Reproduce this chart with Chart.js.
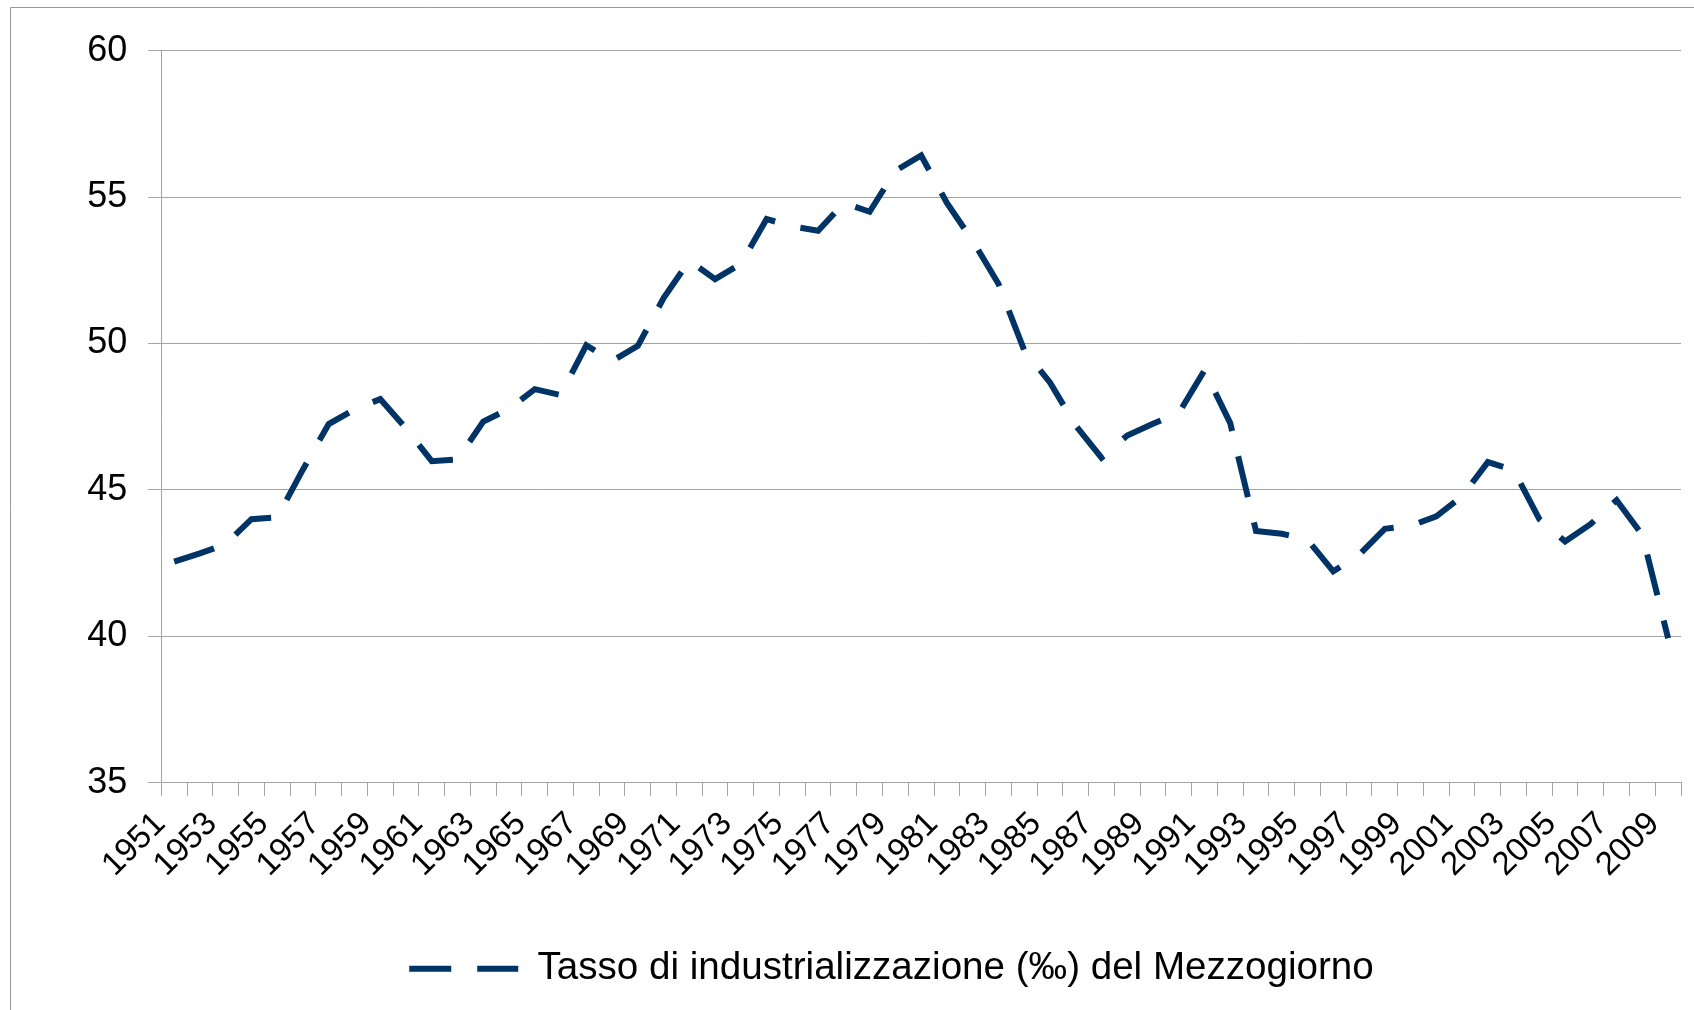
<!DOCTYPE html>
<html>
<head>
<meta charset="utf-8">
<script src="https://cdn.jsdelivr.net/npm/chart.js@4.4.1/dist/chart.umd.min.js"></script>
<style>
  html, body { margin: 0; padding: 0; background: #fff; overflow: hidden; }
  #wrap { position: relative; width: 1694px; height: 1010px; }
</style>
</head>
<body>
<div id="wrap"><canvas id="chart"></canvas></div>
<script>
// categories: one per year
var years = ['1951','1952','1953','1954','1955','1956','1957','1958','1959','1960',
             '1961','1962','1963','1964','1965','1966','1967','1968','1969','1970',
             '1971','1972','1973','1974','1975','1976','1977','1978','1979','1980',
             '1981','1982','1983','1984','1985','1986','1987','1988','1989','1990',
             '1991','1992','1993','1994','1995','1996','1997','1998','1999','2000',
             '2001','2002','2003','2004','2005','2006','2007','2008','2009'];

// industrialisation rate (per mille)
var tasso = [42.55, 42.83, 43.15, 44.0, 44.06, 45.7, 47.25, 47.75, 48.1, 47.1,
             45.98, 46.04, 47.33, 47.77, 48.44, 48.24, 49.94, 49.4, 49.92, 51.55,
             52.83, 52.2, 52.72, 54.25, 54.0, 53.85, 54.8, 54.5, 55.9, 56.42,
             54.8, 53.51, 52.04, 49.77, 48.67, 47.2, 46.1, 46.86, 47.26, 47.62,
             49.08, 47.28, 43.6, 43.5, 43.3, 42.22, 42.78, 43.67, 43.77, 44.1,
             44.78, 45.95, 45.68, 44.0, 43.24, 43.84, 44.65, 43.46, 39.93];

var seriesName = 'Tasso di industrializzazione (\u2030) del Mezzogiorno';
var yMin = 35, yMax = 60, yStep = 5;
var labelEvery = 2; // only every other year gets a label

var gray = '#a3a3a3';
var navy = '#003366';
var dash = [42, 26];
var lineW = 6;

// the thin frame round the chart (only left and top edges are inside the picture)
var framePlugin = {
  id: 'frame',
  beforeDraw: function(chart) {
    var ctx = chart.ctx;
    ctx.save();
    ctx.strokeStyle = '#9a9a9a';
    ctx.lineWidth = 1;
    ctx.beginPath();
    ctx.moveTo(10.5, chart.height);
    ctx.lineTo(10.5, 7.5);
    ctx.lineTo(chart.width, 7.5);
    ctx.stroke();
    ctx.restore();
  },
  // legend sits a little right of the canvas centre in the original
  afterLayout: function(chart) {
    if (chart.legend) {
      chart.legend.left += 51;
      chart.legend.right += 51;
    }
  }
};

new Chart(document.getElementById('chart'), {
  type: 'line',
  data: {
    labels: years,
    datasets: [{
      label: seriesName,
      data: tasso,
      borderColor: navy,
      backgroundColor: navy,
      borderWidth: lineW,
      borderDash: dash,
      borderCapStyle: 'butt',
      borderJoinStyle: 'miter',
      pointRadius: 0,
      tension: 0,
      fill: false
    }]
  },
  options: {
    responsive: true,
    maintainAspectRatio: false,
    animation: false,
    layout: { padding: { left: 0, right: 13, top: 50.7, bottom: 12 } },
    plugins: {
      legend: {
        position: 'bottom',
        labels: {
          usePointStyle: true,
          pointStyle: 'line',
          pointStyleWidth: 109,
          padding: 10,
          color: '#000',
          font: { family: 'Liberation Sans', size: 38.6 },
          generateLabels: function(chart) {
            var items = Chart.defaults.plugins.legend.labels.generateLabels(chart);
            items.forEach(function(it) { it.lineDash = dash; it.lineWidth = lineW; it.strokeStyle = navy; });
            return items;
          }
        }
      },
      tooltip: { enabled: false }
    },
    scales: {
      x: {
        offset: true,
        grid: { offset: true, drawOnChartArea: false, drawTicks: true, tickLength: 13, color: gray },
        border: { color: gray },
        ticks: {
          autoSkip: false,
          minRotation: 45,
          maxRotation: 45,
          padding: 9,
          labelOffset: -14,
          color: '#000',
          font: { family: 'Liberation Sans', size: 33 },
          callback: function(v, i) { return i % labelEvery === 0 ? years[i] : ''; }
        },
        afterFit: function(s) { s.height = 156.7; s.paddingLeft = 0; s.paddingRight = 0; }
      },
      y: {
        min: yMin,
        max: yMax,
        ticks: { stepSize: yStep, padding: 21, color: '#000', font: { family: 'Liberation Sans', size: 36 } },
        grid: { color: gray, tickLength: 13 },
        border: { color: gray },
        afterFit: function(s) { s.width = 161.3; }
      }
    }
  },
  plugins: [framePlugin]
});
</script>
</body>
</html>
